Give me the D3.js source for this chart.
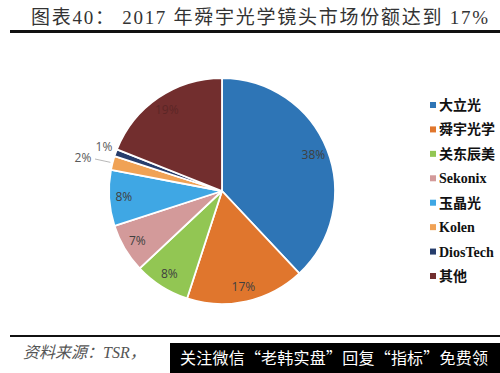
<!DOCTYPE html>
<html>
<head>
<meta charset="utf-8">
<script src="https://cdn.jsdelivr.net/npm/d3@7"></script>
<style>
  body { margin: 0; background: #fff; }
  svg { display: block; }
</style>
</head>
<body>
<div id="chart"></div>
<script>
// chart data
const categories = ['大立光', '舜宇光学', '关东辰美', 'Sekonix', '玉晶光', 'Kolen', 'DiosTech', '其他'];
const shares = [38, 17, 8, 7, 8, 2, 1, 19];
const colors = ['#2e75b6', '#e0762d', '#92c653', '#d39a9a', '#3fa7e4', '#f0a255', '#263d6c', '#722e2e'];
const outsideLabels = ['Kolen', 'DiosTech'];

const width = 500, height = 373;
const cx = 222, cy = 191, radius = 113;

const svg = d3.select('#chart')
    .append('svg')
    .attr('width', width)
    .attr('height', height);

// title + rules
svg.append('text')
    .attr('x', 31)
    .attr('y', 24)
    .attr('font-family', '"Liberation Serif", "Noto Sans CJK SC", serif')
    .attr('font-size', 19)
    .attr('fill', '#333')
    .attr('textLength', 457)
    .text('图表40： 2017 年舜宇光学镜头市场份额达到 17%');

svg.append('rect').attr('x', 10).attr('y', 30).attr('width', 490).attr('height', 3).attr('fill', '#111');
svg.append('rect').attr('x', 10).attr('y', 335).attr('width', 490).attr('height', 2).attr('fill', '#111');

// pie
const pie = d3.pie().sort(null).value(d => d)(shares);
const arc = d3.arc().innerRadius(0).outerRadius(radius);
const labelArc = d3.arc().innerRadius(radius * 0.87).outerRadius(radius * 0.87);

const g = svg.append('g').attr('transform', `translate(${cx},${cy})`);

g.selectAll('path')
    .data(pie)
    .enter()
    .append('path')
    .attr('d', arc)
    .attr('fill', (d, i) => colors[i])
    .attr('stroke', '#fff')
    .attr('stroke-width', 1.8);

// labels inside the slices
g.selectAll('text.inside')
    .data(pie.filter((d, i) => !outsideLabels.includes(categories[i])))
    .enter()
    .append('text')
    .attr('class', 'inside')
    .attr('transform', d => `translate(${labelArc.centroid(d)})`)
    .attr('text-anchor', 'middle')
    .attr('dy', '0.35em')
    .attr('font-family', '"Open Sans", "Liberation Sans", sans-serif')
    .attr('font-size', 12)
    .attr('fill', d => d.index === 7 ? '#5c2626' : '#404040')
    .text(d => d.data + '%');

// small slices get outside labels
const outerArc = d3.arc().innerRadius(radius * 1.02).outerRadius(radius * 1.02);
const outside = pie.filter((d, i) => outsideLabels.includes(categories[i]));
const outPos = { 5: [-139, -33], 6: [-118, -44] };

outside.forEach(d => {
    const p = outPos[d.index];
    if (d.index === 5) {
        const e = outerArc.centroid(d);
        g.append('path')
            .attr('d', `M${p[0] + 12},${p[1] + 1} L${e[0]},${e[1]}`)
            .attr('fill', 'none')
            .attr('stroke', '#a6a6a6')
            .attr('stroke-width', 0.8);
    }
    g.append('text')
        .attr('x', p[0])
        .attr('y', p[1])
        .attr('text-anchor', 'middle')
        .attr('dy', '0.35em')
        .attr('font-family', '"Open Sans", "Liberation Sans", sans-serif')
        .attr('font-size', 12)
        .attr('fill', '#595959')
        .text(d.data + '%');
});

// legend
const legendY = d3.scalePoint().domain(categories).range([105, 276]);
const legend = svg.append('g');
const item = legend.selectAll('g')
    .data(categories)
    .enter()
    .append('g')
    .attr('transform', d => `translate(430,${legendY(d)})`);

item.append('rect')
    .attr('x', 0)
    .attr('y', -3)
    .attr('width', 6)
    .attr('height', 6)
    .attr('fill', (d, i) => colors[i]);

item.append('text')
    .attr('x', 9)
    .attr('dy', '0.36em')
    .attr('font-family', d => /^[A-Za-z]/.test(d)
        ? '"Liberation Serif", serif'
        : '"Noto Sans CJK SC", sans-serif')
    .attr('font-weight', 'bold')
    .attr('font-size', 14)
    .attr('fill', '#111')
    .text(d => d);

// source line + overlay box
svg.append('text')
    .attr('x', 23)
    .attr('y', 358)
    .attr('font-family', '"Liberation Serif", "Noto Sans CJK SC", serif')
    .attr('font-style', 'italic')
    .attr('font-size', 16)
    .attr('fill', '#555')
    .text('资料来源：TSR，');

svg.append('rect').attr('x', 170).attr('y', 343).attr('width', 330).attr('height', 30).attr('fill', '#000');
svg.append('text')
    .attr('x', 180)
    .attr('y', 364)
    .attr('font-family', '"Noto Sans CJK SC", sans-serif')
    .attr('font-size', 16)
    .attr('fill', '#fff')
    .attr('textLength', 308)
    .text('关注微信“老韩实盘”回复“指标”免费领');
</script>
</body>
</html>
